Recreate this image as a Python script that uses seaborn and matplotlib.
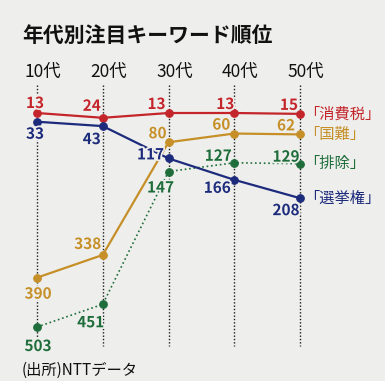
import numpy as np
import pandas as pd
import matplotlib
matplotlib.use('Agg')
import matplotlib.pyplot as plt
import matplotlib.patheffects as pe
import seaborn as sns

# %%
ages = ['10代', '20代', '30代', '40代', '50代']
keywords = ['「消費税」', '「国難」', '「排除」', '「選挙権」']
shohizei = [13, 24, 13, 13, 15]
kokunan = [390, 338, 80, 60, 62]
haijo = [503, 451, 147, 127, 129]
senkyoken = [33, 43, 117, 166, 208]

colors = ['#c4252b', '#c68f28', '#1f6d3b', '#1d2b7c']
styles = ['-', '-', ':', '-']
widths = [1.6, 1.6, 1.2, 1.6]

# label offsets in pixels (dx, dy), one per point
offsets = [
    [(-2, 10), (-11, 12), (-12, 9), (-9, 9), (-11, 9)],
    [(1, -16), (-15, 11), (-11, 9), (-13, 9), (-14, 9)],
    [(1, -19), (-12, -18), (-8, -16), (-16, 7), (-14, 7)],
    [(-2, -12), (-11, -13), (-18, 4), (-17, -8), (-14, -12)],
]

df = pd.DataFrame({'age': ages, '消費税': shohizei, '国難': kokunan,
                   '排除': haijo, '選挙権': senkyoken})
series = ['消費税', '国難', '排除', '選挙権']

# %%
sns.set_style('white')
plt.rcParams['font.family'] = ['Noto Sans CJK JP', 'DejaVu Sans']
bg = '#eeefec'
fig = plt.figure(figsize=(3.85, 3.81), dpi=100, facecolor=bg)
ax = fig.add_axes([37 / 385, 1 - 327 / 381, 263 / 385, 214 / 381])
ax.set_facecolor('none')

x = np.arange(len(ages))
ax.vlines(x, -51, 546, colors='#1a1a1a', linestyles=(0, (1, 1.4)),
          linewidth=1.0, clip_on=False, zorder=1)

halo = [pe.withStroke(linewidth=2.5, foreground=bg)]
for i, s in enumerate(series):
    sns.lineplot(x=x, y=df[s], ax=ax, color=colors[i], linestyle=styles[i],
                 linewidth=widths[i], marker='o', markersize=5.5,
                 markeredgecolor=colors[i], clip_on=False, zorder=3)
    for j, v in enumerate(df[s]):
        dx, dy = offsets[i][j]
        ax.annotate(str(v), (x[j], v), xytext=(dx, dy), textcoords='offset pixels',
                    ha='center', va='center', color=colors[i], fontsize=11,
                    fontweight='bold', annotation_clip=False, zorder=4,
                    path_effects=halo)
    ax.annotate(keywords[i], (x[-1], df[s].iloc[-1]), xytext=(4, 0),
                textcoords='offset pixels', ha='left', va='center',
                color=colors[i], fontsize=11, annotation_clip=False)

ax.set_xlim(0, 4)
ax.set_ylim(503, 13)
ax.set_axis_off()

for j, a in enumerate(ages):
    ax.annotate(a, (x[j], 13), xytext=(6, 41), textcoords='offset pixels',
                ha='center', va='center', fontsize=12.5, color='#111111',
                annotation_clip=False)

fig.text(22 / 385, 1 - 35 / 381, '年代別注目キーワード順位', fontsize=15,
         fontweight='bold', color='#111111', ha='left', va='center')
fig.text(22 / 385, 1 - 370 / 381, '(出所)NTTデータ', fontsize=11,
         color='#111111', ha='left', va='center')

fig.savefig('out.png', dpi=100, facecolor=bg)
